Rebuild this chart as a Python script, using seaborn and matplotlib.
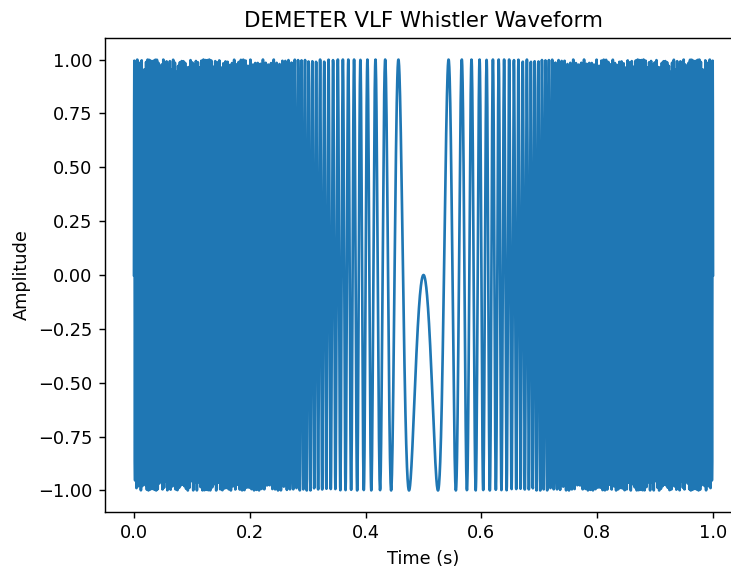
"""DEMETER VLF whistler waveform plot."""

import numpy as np
import matplotlib
matplotlib.use('Agg')
import matplotlib.pyplot as plt
import seaborn as sns

# Waveform parameters
duration = 1.0          # seconds
n_samples = 3000        # samples over the record
t_center = 0.5          # centre of the symmetric sweep (s)
sweep_rate = 400.0      # phase = 2*pi*sweep_rate*(t - t_center)**2

time = np.linspace(0, duration, n_samples)
amplitude = -np.sin(2 * np.pi * sweep_rate * (time - t_center) ** 2)

dpi = 128
W, H = 731, 570
fig = plt.figure(figsize=(W / dpi, H / dpi), dpi=dpi)
# the reference is cropped on the right, so the axes run past the figure edge
ax = fig.add_axes([105 / W, 1 - 512 / H, 637 / W, 474 / H])

sns.lineplot(x=time, y=amplitude, ax=ax, color='#1f77b4', linewidth=1.5)

ax.set_title('DEMETER VLF Whistler Waveform')
ax.set_xlabel('Time (s)')
ax.set_ylabel('Amplitude')
ax.set_yticks(np.arange(-1.0, 1.01, 0.25))

fig.savefig('out.png', dpi=dpi)
